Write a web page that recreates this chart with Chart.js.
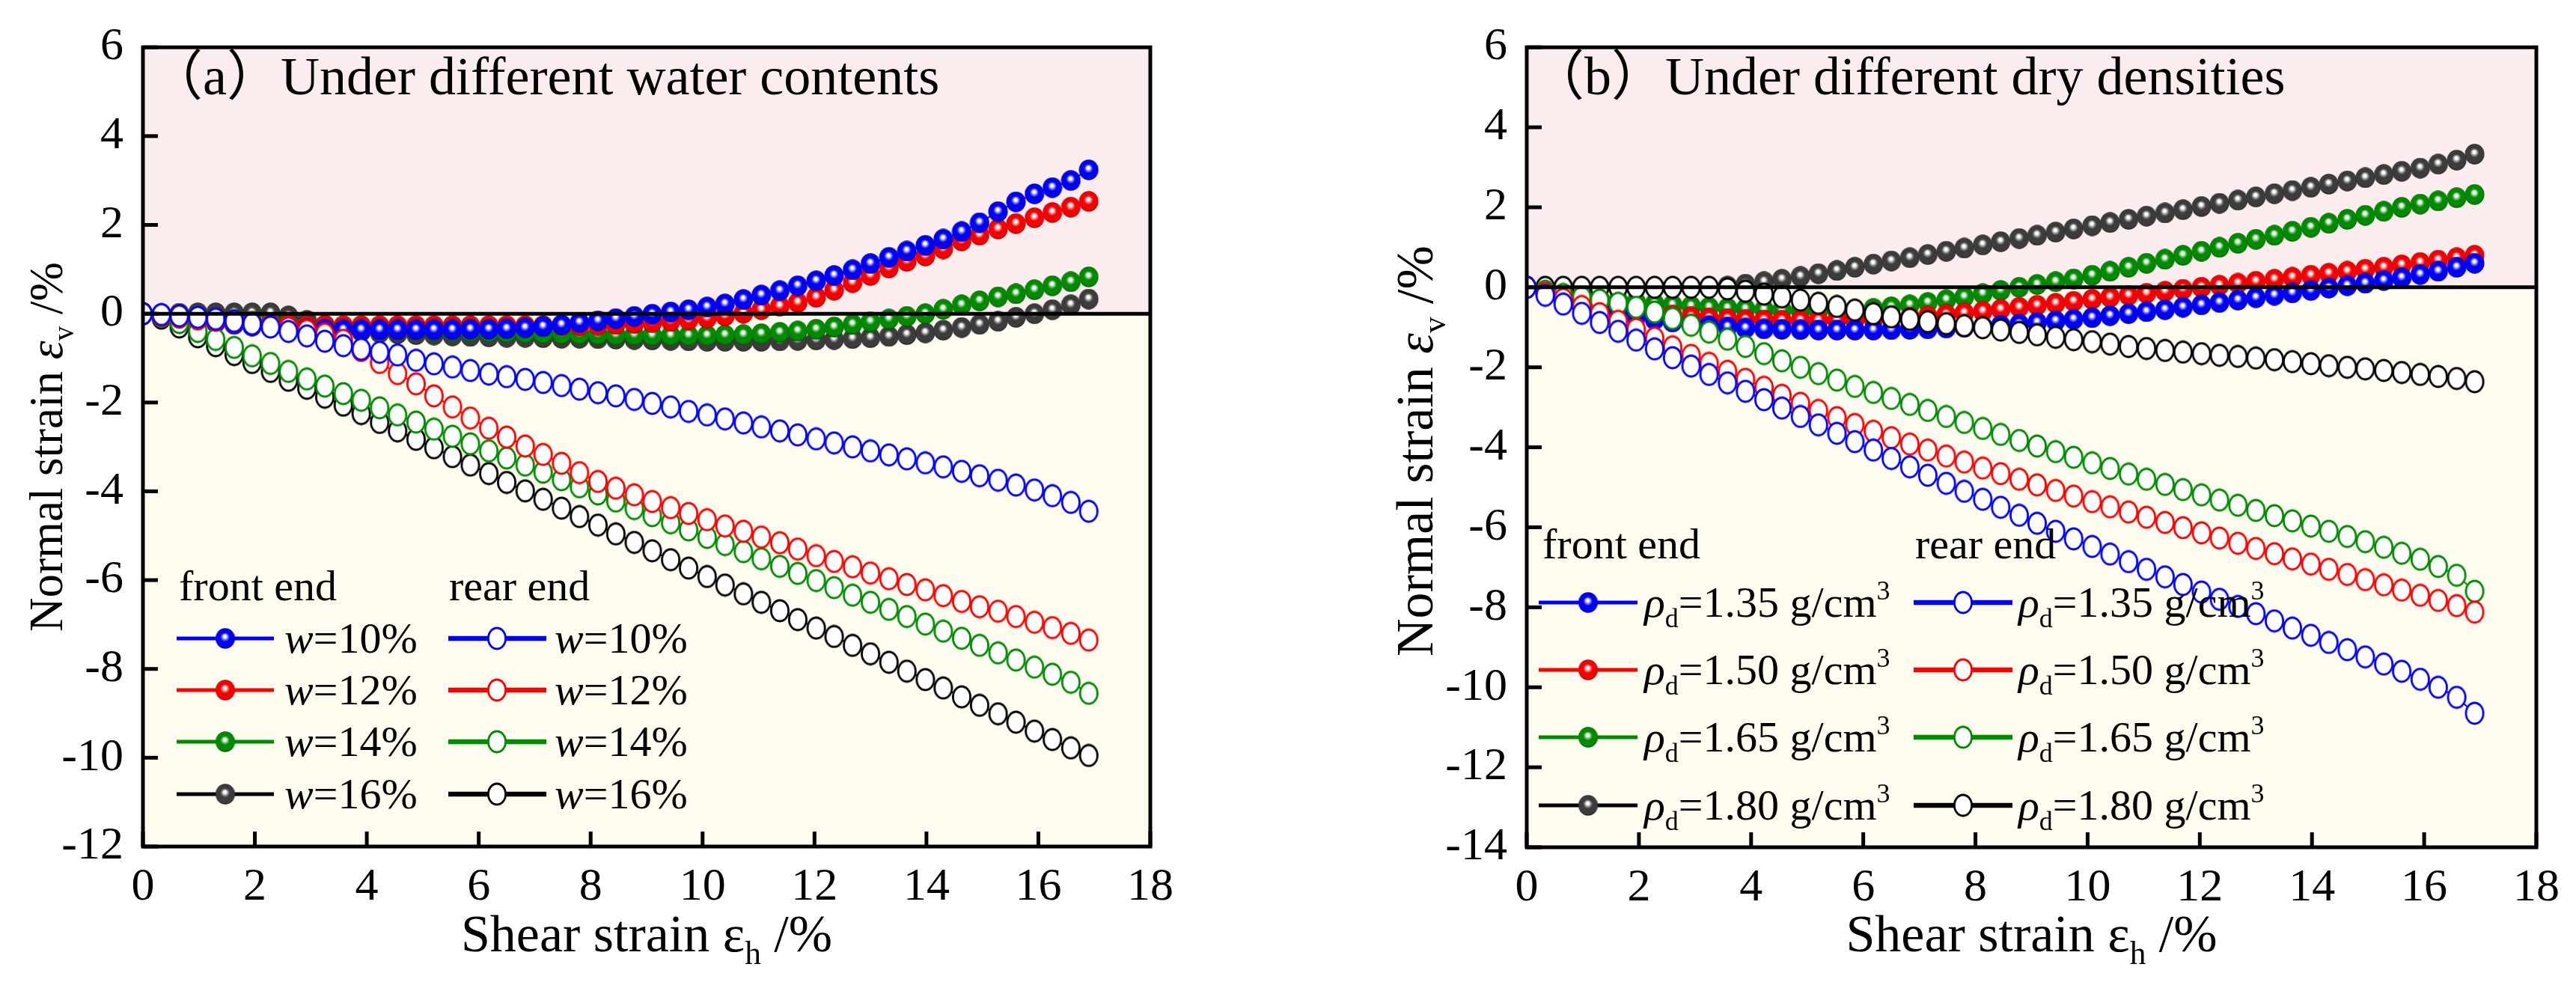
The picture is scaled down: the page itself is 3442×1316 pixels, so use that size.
<!DOCTYPE html>
<html>
<head>
<meta charset="utf-8">
<script src="https://cdn.jsdelivr.net/npm/chart.js@4.4.1/dist/chart.umd.min.js"></script>
<style>
  html, body { margin: 0; padding: 0; background: #fff; }
  body { position: relative; width: 3442px; height: 1316px; overflow: hidden; }
  canvas { position: absolute; top: 0; }
  #panelA { left: 0; }
  #panelB { left: 1720px; }
</style>
</head>
<body>
<canvas id="panelA" width="1700" height="1316"></canvas>
<canvas id="panelB" width="1722" height="1316"></canvas>
<script>
// shear strain at each reading (same for every series)
const strainX = [0, 0.33, 0.65, 0.98, 1.3, 1.63, 1.95, 2.28, 2.6, 2.93, 3.25, 3.58, 3.9, 4.23, 4.55, 4.88, 5.2, 5.53, 5.85, 6.18,
  6.5, 6.83, 7.15, 7.48, 7.8, 8.13, 8.45, 8.78, 9.1, 9.43, 9.75, 10.08, 10.4, 10.73, 11.05, 11.38, 11.7, 12.03, 12.35, 12.68,
  13.0, 13.33, 13.65, 13.98, 14.3, 14.63, 14.95, 15.28, 15.6, 15.93, 16.25, 16.58, 16.9];

// (a) water content, front end
const aFrontW10 = [0, -0.04, -0.1, -0.15, -0.2, -0.24, -0.28, -0.31, -0.33, -0.34, -0.35, -0.36, -0.36, -0.36, -0.36, -0.36, -0.36, -0.36, -0.35, -0.35,
  -0.34, -0.32, -0.29, -0.25, -0.2, -0.16, -0.11, -0.06, -0.01, 0.04, 0.09, 0.15, 0.22, 0.32, 0.42, 0.52, 0.63, 0.74, 0.86, 0.99,
  1.13, 1.27, 1.41, 1.54, 1.68, 1.85, 2.05, 2.3, 2.52, 2.7, 2.84, 3.0, 3.24];
const aFrontW12 = [0, -0.04, -0.09, -0.14, -0.18, -0.21, -0.23, -0.25, -0.26, -0.27, -0.27, -0.27, -0.27, -0.27, -0.27, -0.27, -0.27, -0.27, -0.27, -0.27,
  -0.27, -0.27, -0.27, -0.27, -0.27, -0.26, -0.24, -0.22, -0.2, -0.17, -0.14, -0.1, -0.05, 0.01, 0.09, 0.17, 0.25, 0.37, 0.53, 0.7,
  0.86, 1.03, 1.18, 1.3, 1.46, 1.64, 1.77, 1.91, 2.03, 2.16, 2.28, 2.4, 2.53];
const aFrontW14 = [0, -0.02, -0.05, -0.08, -0.11, -0.14, -0.17, -0.2, -0.23, -0.26, -0.28, -0.3, -0.32, -0.34, -0.36, -0.37, -0.38, -0.39, -0.4, -0.41,
  -0.42, -0.43, -0.44, -0.45, -0.46, -0.47, -0.48, -0.48, -0.49, -0.49, -0.49, -0.49, -0.48, -0.47, -0.45, -0.42, -0.39, -0.35, -0.3, -0.24,
  -0.18, -0.12, -0.06, 0.0, 0.1, 0.2, 0.29, 0.38, 0.45, 0.54, 0.63, 0.72, 0.83];
const aFrontW16 = [0, 0.0, 0.01, 0.02, 0.02, 0.02, 0.02, 0.02, -0.05, -0.15, -0.26, -0.34, -0.4, -0.43, -0.45, -0.47, -0.48, -0.5, -0.51, -0.52,
  -0.53, -0.53, -0.54, -0.55, -0.55, -0.56, -0.57, -0.58, -0.59, -0.6, -0.61, -0.62, -0.62, -0.62, -0.62, -0.61, -0.6, -0.59, -0.58, -0.56,
  -0.54, -0.51, -0.47, -0.43, -0.37, -0.31, -0.24, -0.17, -0.08, 0.0, 0.09, 0.2, 0.33];

// (a) water content, rear end
const aRearW10 = [0, -0.02, -0.05, -0.08, -0.12, -0.17, -0.23, -0.3, -0.4, -0.5, -0.62, -0.72, -0.8, -0.87, -0.93, -1.05, -1.13, -1.2, -1.28, -1.36,
  -1.42, -1.48, -1.55, -1.62, -1.7, -1.78, -1.85, -1.93, -2.02, -2.1, -2.2, -2.28, -2.37, -2.46, -2.55, -2.64, -2.73, -2.82, -2.91, -3.0,
  -3.09, -3.18, -3.27, -3.36, -3.45, -3.55, -3.65, -3.75, -3.86, -3.97, -4.1, -4.25, -4.45];
const aRearW12 = [0, -0.04, -0.08, -0.12, -0.15, -0.18, -0.22, -0.27, -0.32, -0.38, -0.46, -0.6, -0.83, -1.1, -1.35, -1.58, -1.85, -2.1, -2.35, -2.58,
  -2.78, -2.98, -3.17, -3.37, -3.58, -3.78, -3.93, -4.08, -4.23, -4.37, -4.5, -4.64, -4.78, -4.9, -5.03, -5.16, -5.3, -5.45, -5.58, -5.7,
  -5.84, -5.97, -6.1, -6.22, -6.35, -6.48, -6.6, -6.7, -6.82, -6.95, -7.07, -7.2, -7.35];
const aRearW14 = [0, -0.06, -0.2, -0.4, -0.58, -0.76, -0.95, -1.12, -1.3, -1.47, -1.63, -1.8, -1.95, -2.12, -2.28, -2.44, -2.6, -2.76, -2.93, -3.09,
  -3.25, -3.41, -3.57, -3.74, -3.9, -4.06, -4.22, -4.39, -4.55, -4.71, -4.87, -5.04, -5.2, -5.36, -5.52, -5.69, -5.85, -6.01, -6.17, -6.34,
  -6.5, -6.66, -6.82, -6.99, -7.15, -7.31, -7.47, -7.64, -7.8, -7.96, -8.12, -8.3, -8.55];
const aRearW16 = [0, -0.1, -0.3, -0.52, -0.72, -0.92, -1.1, -1.3, -1.5, -1.68, -1.88, -2.06, -2.25, -2.45, -2.64, -2.83, -3.02, -3.22, -3.41, -3.6,
  -3.8, -3.99, -4.18, -4.38, -4.57, -4.76, -4.96, -5.15, -5.34, -5.54, -5.73, -5.92, -6.11, -6.31, -6.5, -6.69, -6.89, -7.08, -7.27, -7.47,
  -7.66, -7.85, -8.05, -8.24, -8.43, -8.63, -8.82, -9.01, -9.2, -9.4, -9.59, -9.78, -9.95];

// (b) dry density, front end
const bFrontD135 = [0, -0.15, -0.3, -0.43, -0.55, -0.65, -0.74, -0.81, -0.87, -0.92, -0.96, -0.99, -1.02, -1.04, -1.05, -1.06, -1.07, -1.07, -1.07, -1.07,
  -1.06, -1.05, -1.04, -1.02, -1.0, -0.98, -0.95, -0.92, -0.88, -0.84, -0.8, -0.76, -0.71, -0.66, -0.61, -0.56, -0.5, -0.44, -0.38, -0.32,
  -0.26, -0.2, -0.14, -0.08, -0.02, 0.04, 0.1, 0.17, 0.24, 0.32, 0.4, 0.5, 0.6];
const bFrontD150 = [0, -0.12, -0.24, -0.35, -0.44, -0.52, -0.59, -0.65, -0.7, -0.74, -0.77, -0.79, -0.81, -0.82, -0.83, -0.83, -0.83, -0.82, -0.81, -0.8,
  -0.78, -0.75, -0.72, -0.68, -0.64, -0.6, -0.55, -0.5, -0.45, -0.4, -0.35, -0.3, -0.25, -0.2, -0.15, -0.1, -0.05, 0.0, 0.05, 0.1,
  0.15, 0.2, 0.25, 0.3, 0.35, 0.4, 0.45, 0.5, 0.56, 0.62, 0.68, 0.74, 0.8];
const bFrontD165 = [0, -0.08, -0.15, -0.22, -0.28, -0.33, -0.37, -0.41, -0.44, -0.47, -0.5, -0.52, -0.54, -0.56, -0.57, -0.58, -0.58, -0.58, -0.56, -0.53,
  -0.49, -0.44, -0.38, -0.31, -0.24, -0.16, -0.08, 0.0, 0.07, 0.14, 0.21, 0.3, 0.4, 0.5, 0.6, 0.7, 0.8, 0.9, 1.0, 1.1,
  1.2, 1.3, 1.4, 1.5, 1.6, 1.7, 1.8, 1.9, 2.0, 2.08, 2.16, 2.24, 2.32];
const bFrontD180 = [0, 0, 0, 0, 0, 0, 0, 0, 0, 0, 0.0, 0.03, 0.08, 0.14, 0.2, 0.27, 0.34, 0.42, 0.5, 0.58,
  0.66, 0.74, 0.82, 0.9, 0.98, 1.06, 1.14, 1.22, 1.3, 1.38, 1.46, 1.54, 1.62, 1.7, 1.78, 1.86, 1.94, 2.02, 2.1, 2.18,
  2.26, 2.34, 2.42, 2.5, 2.58, 2.66, 2.74, 2.82, 2.9, 2.98, 3.08, 3.18, 3.33];

// (b) dry density, rear end
const bRearD135 = [0, -0.2, -0.42, -0.65, -0.88, -1.1, -1.32, -1.54, -1.76, -1.97, -2.18, -2.39, -2.6, -2.81, -3.02, -3.23, -3.44, -3.65, -3.86, -4.07,
  -4.28, -4.49, -4.7, -4.9, -5.1, -5.3, -5.5, -5.7, -5.9, -6.1, -6.29, -6.48, -6.67, -6.86, -7.05, -7.24, -7.43, -7.62, -7.8, -7.98,
  -8.16, -8.34, -8.52, -8.7, -8.88, -9.06, -9.24, -9.42, -9.6, -9.8, -10.0, -10.25, -10.65];
const bRearD150 = [0, -0.15, -0.3, -0.48, -0.66, -0.85, -1.05, -1.27, -1.49, -1.7, -1.9, -2.1, -2.3, -2.5, -2.7, -2.9, -3.08, -3.26, -3.43, -3.6,
  -3.76, -3.92, -4.07, -4.22, -4.37, -4.52, -4.66, -4.8, -4.94, -5.08, -5.22, -5.36, -5.49, -5.62, -5.75, -5.88, -6.01, -6.14, -6.27, -6.4,
  -6.53, -6.66, -6.79, -6.92, -7.05, -7.18, -7.31, -7.44, -7.57, -7.7, -7.83, -7.96, -8.12];
const bRearD165 = [0, -0.1, -0.18, -0.25, -0.32, -0.4, -0.5, -0.62, -0.78, -0.95, -1.12, -1.3, -1.48, -1.66, -1.84, -2.0, -2.16, -2.32, -2.48, -2.63,
  -2.78, -2.93, -3.08, -3.23, -3.38, -3.53, -3.68, -3.83, -3.97, -4.11, -4.25, -4.39, -4.53, -4.67, -4.8, -4.93, -5.06, -5.19, -5.32, -5.45,
  -5.58, -5.71, -5.84, -5.97, -6.1, -6.23, -6.36, -6.5, -6.65, -6.8, -6.98, -7.2, -7.6];
const bRearD180 = [0, 0, 0, 0, 0, 0, 0, 0, 0, 0, 0.0, -0.04, -0.1, -0.17, -0.24, -0.32, -0.4, -0.48, -0.57, -0.66,
  -0.74, -0.8, -0.86, -0.91, -0.96, -1.01, -1.07, -1.13, -1.19, -1.25, -1.31, -1.36, -1.42, -1.48, -1.53, -1.58, -1.62, -1.66, -1.7, -1.73,
  -1.77, -1.81, -1.86, -1.91, -1.96, -2.0, -2.04, -2.08, -2.13, -2.18, -2.23, -2.28, -2.36];

const waterLabels = ['10%', '12%', '14%', '16%'];
const densityLabels = ['1.35', '1.50', '1.65', '1.80'];
const xTicksStep = 2;

const SERIF = '"Liberation Serif", "Times New Roman", "Noto Sans CJK SC", serif';
const lineColors = ['#0000ff', '#ff0000', '#008c00', '#000000'];
const ballColors = [
  { base: '#0000f5', light: '#8080ff', dark: '#000090' },
  { base: '#f50000', light: '#ff8080', dark: '#900000' },
  { base: '#008a00', light: '#80c880', dark: '#004800' },
  { base: '#3c3c3c', light: '#a0a0a0', dark: '#1a1a1a' }
];

// shaded ball for the front-end series
function makeBall(c) {
  const cv = document.createElement('canvas');
  cv.width = 27; cv.height = 28;
  const g = cv.getContext('2d');
  const grad = g.createRadialGradient(13, 11, 0.5, 13.5, 14, 14);
  grad.addColorStop(0, '#ffffff');
  grad.addColorStop(0.1, '#ffffff');
  grad.addColorStop(0.24, c.light);
  grad.addColorStop(0.42, c.base);
  grad.addColorStop(0.85, c.base);
  grad.addColorStop(1, c.dark);
  g.fillStyle = grad;
  g.beginPath();
  g.ellipse(13.5, 14, 13, 13.7, 0, 0, Math.PI * 2);
  g.fill();
  return cv;
}

// open oval for the rear-end series
function makeRing(color) {
  const cv = document.createElement('canvas');
  cv.width = 28; cv.height = 32;
  const g = cv.getContext('2d');
  g.fillStyle = '#ffffff';
  g.strokeStyle = color;
  g.lineWidth = 2.8;
  g.beginPath();
  g.ellipse(14, 16, 11.6, 14, 0, 0, Math.PI * 2);
  g.fill();
  g.stroke();
  return cv;
}
const balls = ballColors.map(makeBall);
const rings = lineColors.map(makeRing);

function drawRich(ctx, parts, x, y, size, align) {
  let total = 0;
  const runs = parts.map(p => {
    const s = (p.sub || p.sup) ? size * 0.62 : size;
    const f = (p.italic ? 'italic ' : '') + s + 'px ' + SERIF;
    ctx.font = f;
    const w = ctx.measureText(p.t).width;
    total += w;
    return { t: p.t, f, w, dy: p.sub ? size * 0.24 : (p.sup ? -size * 0.4 : 0) };
  });
  let cx = align === 'center' ? x - total / 2 : x;
  ctx.textAlign = 'left';
  ctx.textBaseline = 'alphabetic';
  runs.forEach(r => {
    ctx.font = r.f;
    ctx.fillText(r.t, cx, y + r.dy);
    cx += r.w;
  });
}

// pink above zero, pale yellow below
const zoneFill = {
  id: 'zoneFill',
  beforeDatasetsDraw(chart) {
    const { ctx, chartArea: a, scales } = chart;
    const y0 = scales.y.getPixelForValue(0);
    ctx.save();
    ctx.fillStyle = '#fbedee';
    ctx.fillRect(a.left, a.top, a.right - a.left, y0 - a.top);
    ctx.fillStyle = '#fdfcee';
    ctx.fillRect(a.left, y0, a.right - a.left, a.bottom - y0);
    ctx.restore();
  }
};

// zero line, frame, inward ticks, axis titles, panel caption
const frameDeco = {
  id: 'frameDeco',
  afterDatasetsDraw(chart, args, o) {
    const { ctx, chartArea: a, scales } = chart;
    const y0 = scales.y.getPixelForValue(0);
    ctx.save();
    ctx.strokeStyle = '#000';
    ctx.lineWidth = 5;
    ctx.beginPath();
    ctx.moveTo(a.left, y0);
    ctx.lineTo(a.right, y0);
    ctx.stroke();
    ctx.strokeRect(a.left, a.top, a.right - a.left, a.bottom - a.top);
    scales.x.ticks.forEach(t => {
      const px = scales.x.getPixelForValue(t.value);
      ctx.beginPath(); ctx.moveTo(px, a.bottom); ctx.lineTo(px, a.bottom - 20); ctx.stroke();
    });
    scales.y.ticks.forEach(t => {
      const py = scales.y.getPixelForValue(t.value);
      ctx.beginPath(); ctx.moveTo(a.left, py); ctx.lineTo(a.left + 20, py); ctx.stroke();
    });
    ctx.fillStyle = '#000';
    // x title
    drawRich(ctx, [{ t: 'Shear strain ' }, { t: 'ε' }, { t: 'h', sub: true }, { t: ' /%' }],
      (a.left + a.right) / 2, o.xTitleY, o.xTitleSize, 'center');
    // y title (rotated)
    ctx.save();
    ctx.translate(o.yTitleX, (a.top + a.bottom) / 2 + o.yTitleShift);
    ctx.rotate(-Math.PI / 2);
    drawRich(ctx, [{ t: 'Normal strain ' }, { t: 'ε', italic: true }, { t: 'v', sub: true }, { t: ' /%' }],
      0, 0, o.yTitleSize, 'center');
    ctx.restore();
    // caption
    ctx.font = o.captionSize + 'px ' + SERIF;
    ctx.textAlign = 'left';
    ctx.fillText(o.caption, o.captionX, o.captionY);
    ctx.restore();
  }
};

// two-column legend: front end (filled balls) / rear end (open ovals)
const pairLegend = {
  id: 'pairLegend',
  afterDraw(chart, args, o) {
    const ctx = chart.ctx;
    const sets = chart.data.datasets;
    ctx.save();
    ctx.fillStyle = '#000';
    ctx.font = o.size + 'px ' + SERIF;
    ctx.textAlign = 'left';
    ctx.fillText('front end', o.cols[0].head, o.headY);
    ctx.fillText('rear end', o.cols[1].head, o.headY);
    o.cols.forEach((col, ci) => {
      o.rows.forEach((y, r) => {
        const ds = sets[ci * 4 + r];
        ctx.strokeStyle = ds.borderColor;
        ctx.lineWidth = ci === 0 ? o.lineWidth : o.lineWidth + 1.5;
        ctx.beginPath(); ctx.moveTo(col.x0, y); ctx.lineTo(col.x1, y); ctx.stroke();
        const img = ds.pointStyle;
        ctx.drawImage(img, col.xm - img.width / 2, y - img.height / 2);
        ctx.fillStyle = '#000';
        drawRich(ctx, o.label(r), col.xl, y + o.size * 0.33, o.size, 'left');
      });
    });
    ctx.restore();
  }
};

function buildPanel(canvasId, front, rear, p) {
  const datasets = [];
  front.forEach((ys, i) => datasets.push({
    data: strainX.map((x, k) => ({ x, y: ys[k] })),
    borderColor: lineColors[i],
    borderWidth: 2,
    pointStyle: balls[i],
    pointRadius: 13,
    order: 2
  }));
  rear.forEach((ys, i) => datasets.push({
    data: strainX.map((x, k) => ({ x, y: ys[k] })),
    borderColor: lineColors[i],
    borderWidth: 2,
    pointStyle: rings[i],
    pointRadius: 13,
    order: 1
  }));

  const tickFont = { family: SERIF, size: 62 };
  return new Chart(document.getElementById(canvasId), {
    type: 'line',
    data: { datasets },
    plugins: [zoneFill, frameDeco, pairLegend],
    options: {
      responsive: false,
      animation: false,
      events: [],
      layout: { padding: { left: 0, right: p.padRight, top: p.padTop, bottom: 0 } },
      plugins: {
        legend: { display: false },
        tooltip: { enabled: false },
        frameDeco: p.deco,
        pairLegend: p.legend
      },
      scales: {
        x: {
          type: 'linear', min: 0, max: 18,
          ticks: { stepSize: xTicksStep, font: tickFont, color: '#000', padding: 18, maxRotation: 0, autoSkip: false },
          grid: { display: false, drawTicks: false },
          border: { display: false },
          afterFit: s => { s.height = p.xHeight; }
        },
        y: {
          type: 'linear', min: p.yMin, max: 6,
          ticks: { stepSize: 2, font: tickFont, color: '#000', padding: 26, autoSkip: false },
          grid: { display: false, drawTicks: false },
          border: { display: false },
          afterFit: s => { s.width = p.yWidth; }
        }
      }
    }
  });
}

buildPanel('panelA',
  [aFrontW10, aFrontW12, aFrontW14, aFrontW16],
  [aRearW10, aRearW12, aRearW14, aRearW16],
  {
    yMin: -12, padRight: 163, padTop: 47, xHeight: 185, yWidth: 191,
    deco: {
      caption: '（a）Under different water contents', captionX: 199, captionY: 126, captionSize: 72,
      xTitleY: 1271, xTitleSize: 70, yTitleX: 83, yTitleShift: 0, yTitleSize: 63
    },
    legend: {
      size: 58, lineWidth: 5, headY: 802, rows: [853, 922, 991, 1061],
      cols: [{ head: 239, x0: 236, x1: 366, xm: 301, xl: 380 }, { head: 600, x0: 599, x1: 730, xm: 664, xl: 741 }],
      label: r => [{ t: 'w', italic: true }, { t: '=' + waterLabels[r] }]
    }
  });

buildPanel('panelB',
  [bFrontD135, bFrontD150, bFrontD165, bFrontD180],
  [bRearD135, bRearD150, bRearD165, bRearD180],
  {
    yMin: -14, padRight: 53, padTop: 46, xHeight: 184, yWidth: 320,
    deco: {
      caption: '（b）Under different dry densities', captionX: 325, captionY: 126, captionSize: 72,
      xTitleY: 1271, xTitleSize: 70, yTitleX: 194, yTitleShift: 5, yTitleSize: 70
    },
    legend: {
      size: 58, lineWidth: 5, headY: 746, rows: [805, 895, 985, 1076],
      cols: [{ head: 341, x0: 336, x1: 468, xm: 402, xl: 477 }, { head: 839, x0: 837, x1: 969, xm: 903, xl: 977 }],
      label: r => [{ t: 'ρ', italic: true }, { t: 'd', sub: true }, { t: '=' + densityLabels[r] + ' g/cm' }, { t: '3', sup: true }]
    }
  });
</script>
</body>
</html>
